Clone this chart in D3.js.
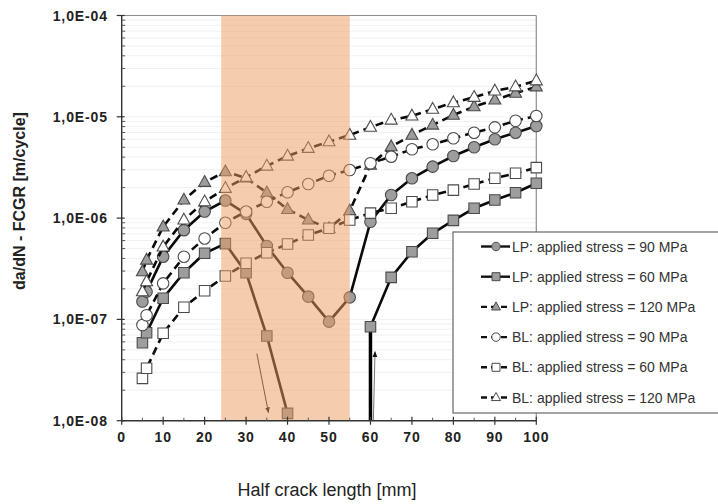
<!DOCTYPE html>
<html><head><meta charset="utf-8">
<script src="https://cdn.jsdelivr.net/npm/d3@7"></script>
<style>
html,body{margin:0;padding:0;background:#fff;}
svg{display:block;font-family:"Liberation Sans",Arial,sans-serif;}
</style></head>
<body><svg id="c" width="718" height="504"></svg>
<script>
// ---------- data ----------
const crackLength = [5,6,10,15,20,25,30,35,40,45,50,55,60,65,70,75,80,85,90,95,100];
const lp90  = [1.50e-7,1.88e-7,4.16e-7,7.6e-7,1.16e-6,1.49e-6,1.10e-6,5.3e-7,2.89e-7,1.68e-7,9.5e-8,1.65e-7,9.2e-7,1.69e-6,2.47e-6,3.22e-6,4.10e-6,5.0e-6,6.0e-6,6.97e-6,8.1e-6];
const lp60  = [5.89e-8,7.39e-8,1.62e-7,2.89e-7,4.5e-7,5.6e-7,2.89e-7,6.86e-8,1.18e-8,null,null,null,8.47e-8,2.6e-7,4.66e-7,7.08e-7,9.5e-7,1.25e-6,1.51e-6,1.78e-6,2.21e-6];
const lp120 = [2.96e-7,3.86e-7,8.2e-7,1.51e-6,2.26e-6,2.87e-6,2.49e-6,1.78e-6,1.22e-6,9.6e-7,7.9e-7,1.18e-6,3.34e-6,5.07e-6,6.6e-6,8.3e-6,1.04e-5,1.26e-5,1.47e-5,1.71e-5,1.98e-5];
const bl90  = [8.8e-8,1.10e-7,2.27e-7,4.16e-7,6.3e-7,9.0e-7,1.16e-6,1.45e-6,1.80e-6,2.17e-6,2.62e-6,2.98e-6,3.48e-6,4.04e-6,4.78e-6,5.35e-6,6.14e-6,6.97e-6,7.87e-6,9.15e-6,1.02e-5];
const bl60  = [2.62e-8,3.29e-8,7.29e-8,1.32e-7,1.92e-7,2.68e-7,3.58e-7,4.55e-7,5.55e-7,6.81e-7,7.93e-7,9.58e-7,1.12e-6,1.25e-6,1.45e-6,1.69e-6,1.89e-6,2.17e-6,2.47e-6,2.77e-6,3.15e-6];
const bl120 = [1.88e-7,2.36e-7,5.2e-7,9.6e-7,1.45e-6,1.97e-6,2.53e-6,3.27e-6,4.1e-6,4.89e-6,5.68e-6,6.6e-6,7.9e-6,9.3e-6,1.02e-5,1.19e-5,1.38e-5,1.56e-5,1.80e-5,1.98e-5,2.27e-5];
const seriesNames = ["LP: applied stress = 90 MPa","LP: applied stress = 60 MPa","LP: applied stress = 120 MPa","BL: applied stress = 90 MPa","BL: applied stress = 60 MPa","BL: applied stress = 120 MPa"];
const xTicks = [0,10,20,30,40,50,60,70,80,90,100];
const yTicks = [1e-8,1e-7,1e-6,1e-5,1e-4];
const shadedZone = [24,55];
const lp60Drop = [60, 8.47e-8, 1e-8];           // vertical drop of LP 60 MPa at 60 mm
const arrowDown = [[32.6,4.6e-8],[35.4,1.2e-8]];
const arrowUp   = [[60.7,1.0e-8],[61.1,4.8e-8]];
const xTitle = "Half crack length [mm]";
const yTitle = "da/dN - FCGR [m/cycle]";

// ---------- chart ----------
const svg = d3.select("#c");
const x = d3.scaleLinear().domain([0,100]).range([121.7,536.3]);
const y = d3.scaleLog().domain([1e-8,1e-4]).range([420.7,15.5]);

const series = [
  {name:seriesNames[0], v:lp90,  shape:"circle",   fill:"#9d9d9d", dash:null},
  {name:seriesNames[1], v:lp60,  shape:"square",   fill:"#9d9d9d", dash:null},
  {name:seriesNames[2], v:lp120, shape:"triangle", fill:"#9d9d9d", dash:"8,5"},
  {name:seriesNames[3], v:bl90,  shape:"circle",   fill:"#ffffff", dash:"8,5"},
  {name:seriesNames[4], v:bl60,  shape:"square",   fill:"#ffffff", dash:"8,5"},
  {name:seriesNames[5], v:bl120, shape:"triangle", fill:"#ffffff", dash:"8,5"}
];

// defs: arrowheads
const defs = svg.append("defs");
defs.append("marker").attr("id","ah").attr("viewBox","0 0 10 10").attr("refX",9).attr("refY",5)
  .attr("markerWidth",6).attr("markerHeight",6).attr("orient","auto")
  .append("path").attr("d","M0,1 L10,5 L0,9 Z").attr("fill","#111");

// minor gridlines (faint)
const minor = [];
for (let e=-8;e<-4;e++) for (let m=2;m<=9;m++) minor.push(m*Math.pow(10,e));
svg.append("g").selectAll("line").data(minor.concat([1e-7,1e-6,1e-5])).join("line")
  .attr("x1",x(0)).attr("x2",x(100)).attr("y1",d=>y(d)).attr("y2",d=>y(d))
  .attr("stroke","#f1f1f1").attr("stroke-width",1);

// border top/right
svg.append("line").attr("x1",x(0)).attr("x2",x(100)).attr("y1",y(1e-4)).attr("y2",y(1e-4)).attr("stroke","#8f8f8f").attr("stroke-width",1.2);
svg.append("line").attr("x1",x(100)).attr("x2",x(100)).attr("y1",y(1e-4)).attr("y2",y(1e-8)).attr("stroke","#8f8f8f").attr("stroke-width",1.2);

function shapePath(shape, s){
  if (shape==="circle") return d3.symbol(d3.symbolCircle, s*s*0.785)();
  if (shape==="square") return d3.symbol(d3.symbolSquare, s*s)();
  const h = s*0.9;
  return `M0,${-h*0.62}L${s/2},${h*0.38}L${-s/2},${h*0.38}Z`;
}

const line = d3.line().defined(d=>d[1]!=null).x(d=>x(d[0])).y(d=>y(d[1]));
const plot = svg.append("g");

// LP 60 vertical drop at 60 mm
plot.append("line").attr("x1",x(lp60Drop[0])).attr("x2",x(lp60Drop[0]))
  .attr("y1",y(lp60Drop[1])).attr("y2",y(lp60Drop[2])).attr("stroke","#000").attr("stroke-width",3.5);

series.forEach(s=>{
  const pts = crackLength.map((c,i)=>[c,s.v[i]]);
  plot.append("path").attr("d",line(pts)).attr("fill","none").attr("stroke","#0a0a0a")
    .attr("stroke-width",2.6).attr("stroke-dasharray",s.dash);
  const size = s.shape==="circle" ? 11.5 : (s.shape==="square" ? 10.5 : 12);
  plot.append("g").selectAll("path").data(pts.filter(p=>p[1]!=null)).join("path")
    .attr("d",shapePath(s.shape,size))
    .attr("transform",p=>`translate(${x(p[0])},${y(p[1])})`)
    .attr("fill",s.fill).attr("stroke","#4a4a4a").attr("stroke-width",1.1);
});

// annotation arrow inside the zone
svg.append("line").attr("x1",x(arrowDown[0][0])).attr("y1",y(arrowDown[0][1]))
  .attr("x2",x(arrowDown[1][0])).attr("y2",y(arrowDown[1][1]))
  .attr("stroke","#222").attr("stroke-width",1).attr("marker-end","url(#ah)");

// shaded zone (on top, translucent)
svg.append("rect").attr("x",x(shadedZone[0])).attr("width",x(shadedZone[1])-x(shadedZone[0]))
  .attr("y",y(1e-4)).attr("height",y(1e-8)-y(1e-4))
  .attr("fill","#ec9c5e").attr("opacity",0.5);

svg.append("line").attr("x1",x(arrowUp[0][0])).attr("y1",y(arrowUp[0][1]))
  .attr("x2",x(arrowUp[1][0])).attr("y2",y(arrowUp[1][1]))
  .attr("stroke","#777").attr("stroke-width",1).attr("marker-end","url(#ah)");

// axes
const fmt = d => { const e = Math.round(Math.log10(d)); return "1,0E" + (e<0?"-":"+") + String(Math.abs(e)).padStart(2,"0"); };
const gy = svg.append("g");
gy.append("line").attr("x1",x(0)).attr("x2",x(0)).attr("y1",y(1e-4)).attr("y2",y(1e-8)).attr("stroke","#333").attr("stroke-width",1.4);
gy.selectAll(".mj").data(yTicks).join("line").attr("x1",x(0)-5).attr("x2",x(0)+3).attr("y1",d=>y(d)).attr("y2",d=>y(d)).attr("stroke","#333").attr("stroke-width",1.2);
gy.selectAll(".mn").data(minor).join("line").attr("class","mn").attr("x1",x(0)).attr("x2",x(0)+3.5).attr("y1",d=>y(d)).attr("y2",d=>y(d)).attr("stroke","#555").attr("stroke-width",1);
gy.selectAll("text").data(yTicks).join("text").attr("x",108).attr("y",d=>y(d)).attr("dy","0.36em")
  .attr("text-anchor","end").attr("font-size",14).attr("font-weight","bold").attr("letter-spacing",0.9)
  .attr("fill","#222").text(fmt);

const gx = svg.append("g");
gx.append("line").attr("x1",x(0)).attr("x2",x(100)).attr("y1",y(1e-8)).attr("y2",y(1e-8)).attr("stroke","#333").attr("stroke-width",1.4);
gx.selectAll(".mj").data(xTicks).join("line").attr("x1",d=>x(d)).attr("x2",d=>x(d)).attr("y1",y(1e-8)-4).attr("y2",y(1e-8)+4).attr("stroke","#333").attr("stroke-width",1.2);
gx.selectAll(".mn").data(xTicks.slice(0,-1).map(d=>d+5)).join("line").attr("class","mn").attr("x1",d=>x(d)).attr("x2",d=>x(d)).attr("y1",y(1e-8)-3).attr("y2",y(1e-8)).attr("stroke","#555").attr("stroke-width",1);
gx.selectAll("text").data(xTicks).join("text").attr("x",d=>x(d)).attr("y",442)
  .attr("text-anchor","middle").attr("font-size",14).attr("font-weight","bold").attr("letter-spacing",0.9)
  .attr("fill","#222").text(d=>d);

// titles
svg.append("text").attr("x",327).attr("y",496).attr("text-anchor","middle").attr("font-size",18)
  .attr("fill","#222").text(xTitle);
svg.append("text").attr("transform","translate(25,201) rotate(-90)").attr("text-anchor","middle")
  .attr("font-size",16).attr("font-weight","bold").attr("fill","#222").text(yTitle);

// legend
const lg = svg.append("g");
lg.append("rect").attr("x",453).attr("y",232).attr("width",280).attr("height",181)
  .attr("fill","#fff").attr("stroke","#666").attr("stroke-width",1.2);
series.forEach((s,i)=>{
  const cy = 246.5 + i*30.2;
  lg.append("line").attr("x1",481).attr("x2",510).attr("y1",cy).attr("y2",cy)
    .attr("stroke","#111").attr("stroke-width",2.4).attr("stroke-dasharray",s.dash?"6,4":null);
  const size = s.shape==="circle" ? 8.5 : (s.shape==="square" ? 8 : 9);
  lg.append("path").attr("d",shapePath(s.shape,size)).attr("transform",`translate(496,${cy})`)
    .attr("fill",s.fill).attr("stroke","#4a4a4a").attr("stroke-width",1);
  lg.append("text").attr("x",512).attr("y",cy).attr("dy","0.36em").attr("font-size",14)
    .attr("fill","#333").text(s.name);
});
</script></body></html>
